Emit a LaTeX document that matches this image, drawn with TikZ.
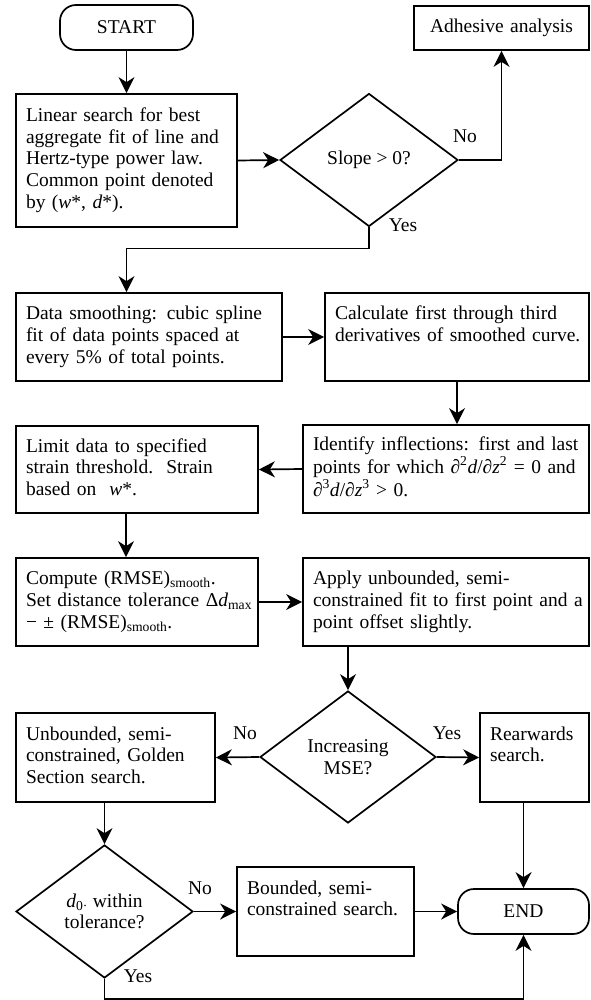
\documentclass[tikz,border=0pt]{standalone}
\usepackage{fontspec}
\setmainfont{Liberation Serif}
\usetikzlibrary{arrows.meta,shapes.geometric,calc}
\newcommand\tx[1]{\begin{tabular}{@{}l@{}}#1\end{tabular}}
\newcommand\fsz{\fontsize{19.5}{21.7}\selectfont}
\begin{document}
\begin{tikzpicture}[
  procbox/.style={draw, line width=1.7pt, rectangle, align=left, inner xsep=10pt, inner ysep=0pt, font=\fsz},
  termbox/.style={draw, line width=1.7pt, rectangle, rounded corners=16pt, inner sep=0pt, font=\fsz},
  decbox/.style={draw, line width=1.7pt, diamond, inner sep=0pt, align=center, font=\fsz},
  lbltxt/.style={inner sep=0pt, font=\fsz},
  arr/.style={line width=1.7pt, -{Stealth[length=16pt,width=16pt,inset=5pt]}}]
\begin{scope}[x=1pt,y=-1pt]
\useasboundingbox (0,0) rectangle (590,1000);

\node[termbox, minimum width=133pt, minimum height=45pt] (begn) at (126.5,27.5) {START};
\node[procbox, align=center, text width=155pt, minimum height=44pt] (adh) at (501.5,28) {Adhesive analysis};
\node[procbox, text width=201pt, minimum height=133pt] (lin) at (126.5,160.5)
  {\tx{Linear search for best\\aggregate fit of line and\\Hertz-type power law.\\Common point denoted\\by (\textit{w}*, \textit{d}*).}};
\node[decbox, minimum width=178pt, minimum height=133pt] (slope) at (369,160) {Slope > 0?};

\node[procbox, text width=246pt, minimum height=88pt] (smooth) at (149,337)
  {\tx{Data smoothing: cubic spline\\fit of data points spaced at\\every 5\% of total points.}};
\node[procbox, text width=244pt, minimum height=88pt] (calc) at (457,337)
  {\tx{Calculate first through third\\derivatives of smoothed curve.\\\mbox{}}};

\node[procbox, text width=266pt, minimum height=88pt] (ident) at (446,469)
  {\tx{Identify inflections: first and last\\points for which \textit{∂}\textsuperscript{2}\textit{d}/\textit{∂z}\textsuperscript{2} = 0 and\\\textit{∂}\textsuperscript{3}\textit{d}/\textit{∂z}\textsuperscript{3} > 0.}};
\node[procbox, text width=222pt, minimum height=87pt] (limit) at (137,469.5)
  {\tx{Limit data to specified\\strain threshold.\ \ Strain\\based on \ \textit{w}*.}};

\node[procbox, text width=222pt, minimum height=88pt] (comp) at (137,602)
  {\tx{Compute (RMSE)\textsubscript{smooth}.\\Set distance tolerance Δ\textit{d}\textsubscript{max}\\− ± (RMSE)\textsubscript{smooth}.}};
\node[procbox, text width=266pt, minimum height=88pt] (apply) at (446,602)
  {\tx{Apply unbounded, semi-\\constrained fit to first point and a\\point offset slightly.}};

\node[decbox, minimum width=176pt, minimum height=132pt] (msed) at (348,757) {Increasing\\MSE?};
\node[procbox, text width=179pt, minimum height=89pt] (unb) at (115.5,757.5)
  {\tx{Unbounded, semi-\\constrained, Golden\\Section search.}};
\node[procbox, text width=89pt, minimum height=89pt] (rear) at (534.5,757.5)
  {\tx{Rearwards\\search.\\\mbox{}}};

\node[decbox, minimum width=177pt, minimum height=133pt] (dz) at (104.5,911.5)
  {\textit{d}\textsubscript{0·} within\\tolerance?};
\node[procbox, text width=157pt, minimum height=89pt] (bnd) at (325.5,911.5)
  {\tx{Bounded, semi-\\constrained search.\\\mbox{}}};
\node[termbox, minimum width=131pt, minimum height=45pt] (stop) at (523.5,911.5) {END};

\node[lbltxt] (nA) at (465,136) {No};
\node[lbltxt] (yA) at (403,225) {Yes};
\node[lbltxt] (nB) at (245,733) {No};
\node[lbltxt] (yB) at (447,733) {Yes};
\node[lbltxt] (nC) at (200,888) {No};
\node[lbltxt] (yC) at (138,976) {Yes};
\end{scope}

\draw[arr] (begn.south) -- (lin.north);
\draw[arr] (lin.east) -- (slope.west);
\draw[arr] (slope.east) -| (adh.south);
\draw[arr] (slope.south) -- ++(0,-21pt) -| (smooth.north -| lin.south);
\draw[arr] (smooth.east) -- (calc.west);
\draw[arr] (calc.south) -- (calc.south |- ident.north);
\draw[arr] (ident.west) -- (limit.east);
\draw[arr] ([xshift=-11pt]limit.south) -- ([xshift=-11pt]limit.south |- comp.north);
\draw[arr] (comp.east) -- (apply.west);
\draw[arr] (apply.south -| msed.north) -- (msed.north);
\draw[arr] (msed.west) -- (unb.east);
\draw[arr] (msed.east) -- (rear.west);
\draw[arr] (unb.south -| dz.north) -- (dz.north);
\draw[arr] (dz.east) -- (bnd.west);
\draw[arr] (bnd.east) -- (stop.west);
\draw[arr] (rear.south -| stop.north) -- (stop.north);
\draw[arr] (dz.south) -- ++(0,-20pt) -| (stop.south);
\end{tikzpicture}
\end{document}
